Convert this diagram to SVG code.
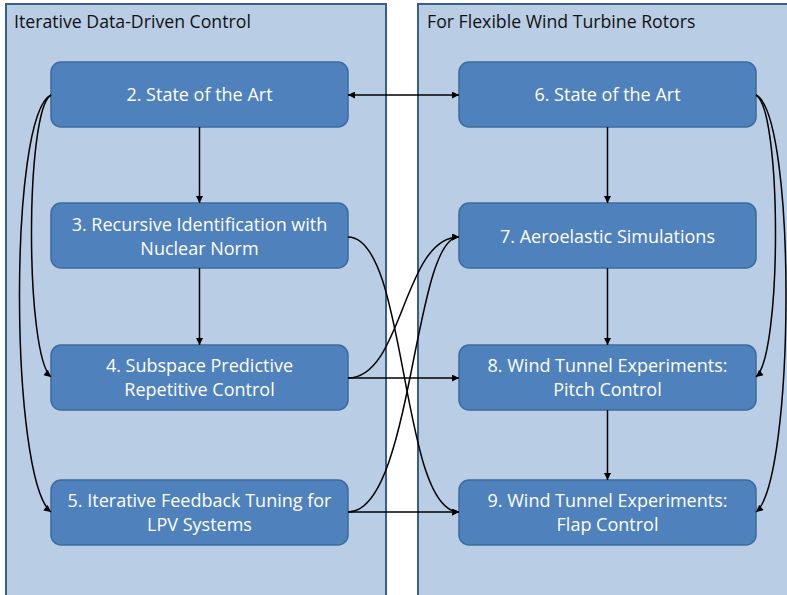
<svg xmlns="http://www.w3.org/2000/svg" width="787" height="595" viewBox="0 0 787 595">
<defs>
<marker id="arr" viewBox="0 0 10 10" refX="10" refY="5" markerWidth="8" markerHeight="7" markerUnits="userSpaceOnUse" orient="auto-start-reverse">
<path d="M0,0 L10,5 L0,10 z" fill="#000"/>
</marker>
<style>
.panel{fill:#B9CDE5;stroke:#3B5F8D;stroke-width:2}
.node{fill:#4F81BD;stroke:#3D6B9F;stroke-width:1.5}
.ptitle{font-family:"Open Sans","Liberation Sans",sans-serif;font-size:17.7px;fill:#111}
.label{font-family:"Open Sans","Liberation Sans",sans-serif;font-size:18px;fill:#fff;text-anchor:middle}
.conn{fill:none;stroke:#000;stroke-width:1.5;marker-end:url(#arr)}
</style>
</defs>
<g id="panel-left">
<rect class="panel" x="6" y="4" width="380" height="620"/>
<text class="ptitle" x="14" y="28">Iterative Data-Driven Control</text>
</g>
<g id="panel-right">
<rect class="panel" x="418" y="4" width="400" height="620"/>
<text class="ptitle" x="427" y="28">For Flexible Wind Turbine Rotors</text>
</g>
<g id="n2"><rect class="node" x="51" y="62" width="297" height="65" rx="10"/><text class="label" x="199.5" y="101">2. State of the Art</text></g>
<g id="n3"><rect class="node" x="51" y="203" width="297" height="65" rx="10"/><text class="label" x="199.5" y="231">3. Recursive Identification with</text><text class="label" x="199.5" y="255">Nuclear Norm</text></g>
<g id="n4"><rect class="node" x="51" y="345" width="297" height="65" rx="10"/><text class="label" x="199.5" y="372">4. Subspace Predictive</text><text class="label" x="199.5" y="396">Repetitive Control</text></g>
<g id="n5"><rect class="node" x="51" y="480" width="297" height="65" rx="10"/><text class="label" x="199.5" y="507">5. Iterative Feedback Tuning for</text><text class="label" x="199.5" y="531">LPV Systems</text></g>
<g id="n6"><rect class="node" x="459" y="62" width="297" height="65" rx="10"/><text class="label" x="607.5" y="101">6. State of the Art</text></g>
<g id="n7"><rect class="node" x="459" y="203" width="297" height="65" rx="10"/><text class="label" x="607.5" y="243">7. Aeroelastic Simulations</text></g>
<g id="n8"><rect class="node" x="459" y="345" width="297" height="65" rx="10"/><text class="label" x="607.5" y="372">8. Wind Tunnel Experiments:</text><text class="label" x="607.5" y="396">Pitch Control</text></g>
<g id="n9"><rect class="node" x="459" y="480" width="297" height="65" rx="10"/><text class="label" x="607.5" y="507">9. Wind Tunnel Experiments:</text><text class="label" x="607.5" y="531">Flap Control</text></g>
<g id="connectors">
<path class="conn" d="M348,95 L459,95" marker-start="url(#arr)"/>
<path class="conn" d="M199.5,127 L199.5,203"/>
<path class="conn" d="M199.5,268 L199.5,345"/>
<path class="conn" d="M607.5,127 L607.5,203"/>
<path class="conn" d="M607.5,268 L607.5,345"/>
<path class="conn" d="M607.5,410 L607.5,480"/>
<path class="conn" d="M51,95 C25,110 25,355 51,377"/>
<path class="conn" d="M51,95 C8,115 10,480 51,512"/>
<path class="conn" d="M756,95 C782,110 782,355 756,377"/>
<path class="conn" d="M756,95 C797,115 795,480 756,512"/>
<path class="conn" d="M348,237 C408,237 400,512 459,512"/>
<path class="conn" d="M348,378 C403,378 403,237 459,237"/>
<path class="conn" d="M348,512 C413,512 413,237 459,237"/>
<path class="conn" d="M348,378 L459,378"/>
<path class="conn" d="M348,512 L459,512"/>
</g>
</svg>
